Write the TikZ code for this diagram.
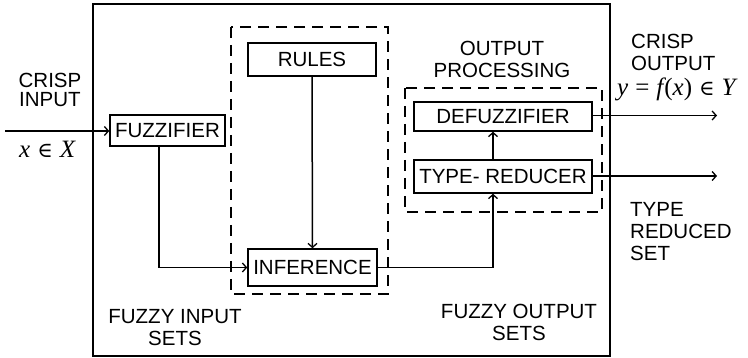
\documentclass[tikz,border=0pt]{standalone}
\usepackage{fontspec}
\setmainfont{Liberation Sans}
\newfontfamily\tms{Liberation Serif}
\newfontfamily\dvs{DejaVu Serif}
\newcommand{\elemof}{\hspace{0.28em}{\dvs\fontsize{21}{22}\selectfont\symbol{"2208}}\hspace{0.28em}}
\newcommand{\eqsign}{\hspace{0.28em}{\upshape =}\hspace{0.28em}}
\usetikzlibrary{arrows.meta,calc}
\begin{document}
\begin{tikzpicture}[x=1pt,y=-1pt,
  lw/.style={line width=1.5pt},
  blk/.style={draw,lw,rectangle,inner sep=0pt,font=\fontsize{20.5}{22}\selectfont},
  lbl/.style={inner sep=0pt,align=center,font=\fontsize{20.5}{22}\selectfont},
  mth/.style={inner sep=0pt,font=\fontsize{25}{27}\selectfont\tms},
  dbox/.style={draw,lw,dash pattern=on 11pt off 7pt},
  arr/.style={lw,-{Straight Barb[length=4pt,width=9pt,line width=1.3pt]}}]
\useasboundingbox (0,0) rectangle (748,358);
% frames
\draw[lw] (93,4) rectangle (610,356);
\draw[dbox] (231,27) rectangle (388,294);
\draw[dbox] (405,88) rectangle (602,212);
% blocks
\node[blk,minimum width=115pt,minimum height=31pt] (fz) at (167.5,130.5) {FUZZIFIER};
\node[blk,minimum width=128pt,minimum height=33pt] (ru) at (312,59.5) {RULES};
\node[blk,minimum width=129pt,minimum height=37pt] (in) at (312.5,267.5) {INFERENCE};
\node[blk,minimum width=178pt,minimum height=29pt] (df) at (503,116.5) {DEFUZZIFIER};
\node[blk,minimum width=178pt,minimum height=33pt] (tr) at (503,176.5) {TYPE- REDUCER};
% free ends
\coordinate (xin) at (5,131);
\coordinate (yout) at (717,115.5);
\coordinate (tout) at (717,176);
% connectors
\draw[arr] (xin) -- (xin -| fz.west);
\draw[arr] ([xshift=-8.5pt]fz.south) |- (in.west);
\draw[arr] (ru.south) -- (in.north);
\draw[arr] (in.east) -| ([xshift=-10pt]tr.south);
\draw[arr] ([xshift=-10pt]tr.north) -- ([xshift=-10pt]df.south);
\draw[arr] (df.east |- yout) -- (yout);
\draw[arr] (tr.east |- tout) -- (tout);
% labels
\node[lbl,font=\fontsize{20.5}{19}\selectfont] (ci) at (50,89.5) {CRISP\\INPUT};
\node[mth,anchor=base west] (xx) at (19,158) {\itshape x\elemof X};
\node[lbl,align=left,anchor=west] (co) at (631,52.5) {CRISP\\OUTPUT};
\node[mth,anchor=base west] (yy) at (617,96) {\itshape y\eqsign f\kern1pt{\upshape(}x{\upshape)}\elemof Y};
\node[lbl] (op) at (502,59) {OUTPUT\\PROCESSING};
\node[lbl,align=left,anchor=west] (trs) at (630,232) {TYPE\\REDUCED\\SET};
\node[lbl] (fis) at (175,327.5) {FUZZY INPUT\\SETS};
\node[lbl] (fos) at (519,322) {FUZZY OUTPUT\\SETS};
\end{tikzpicture}
\end{document}
